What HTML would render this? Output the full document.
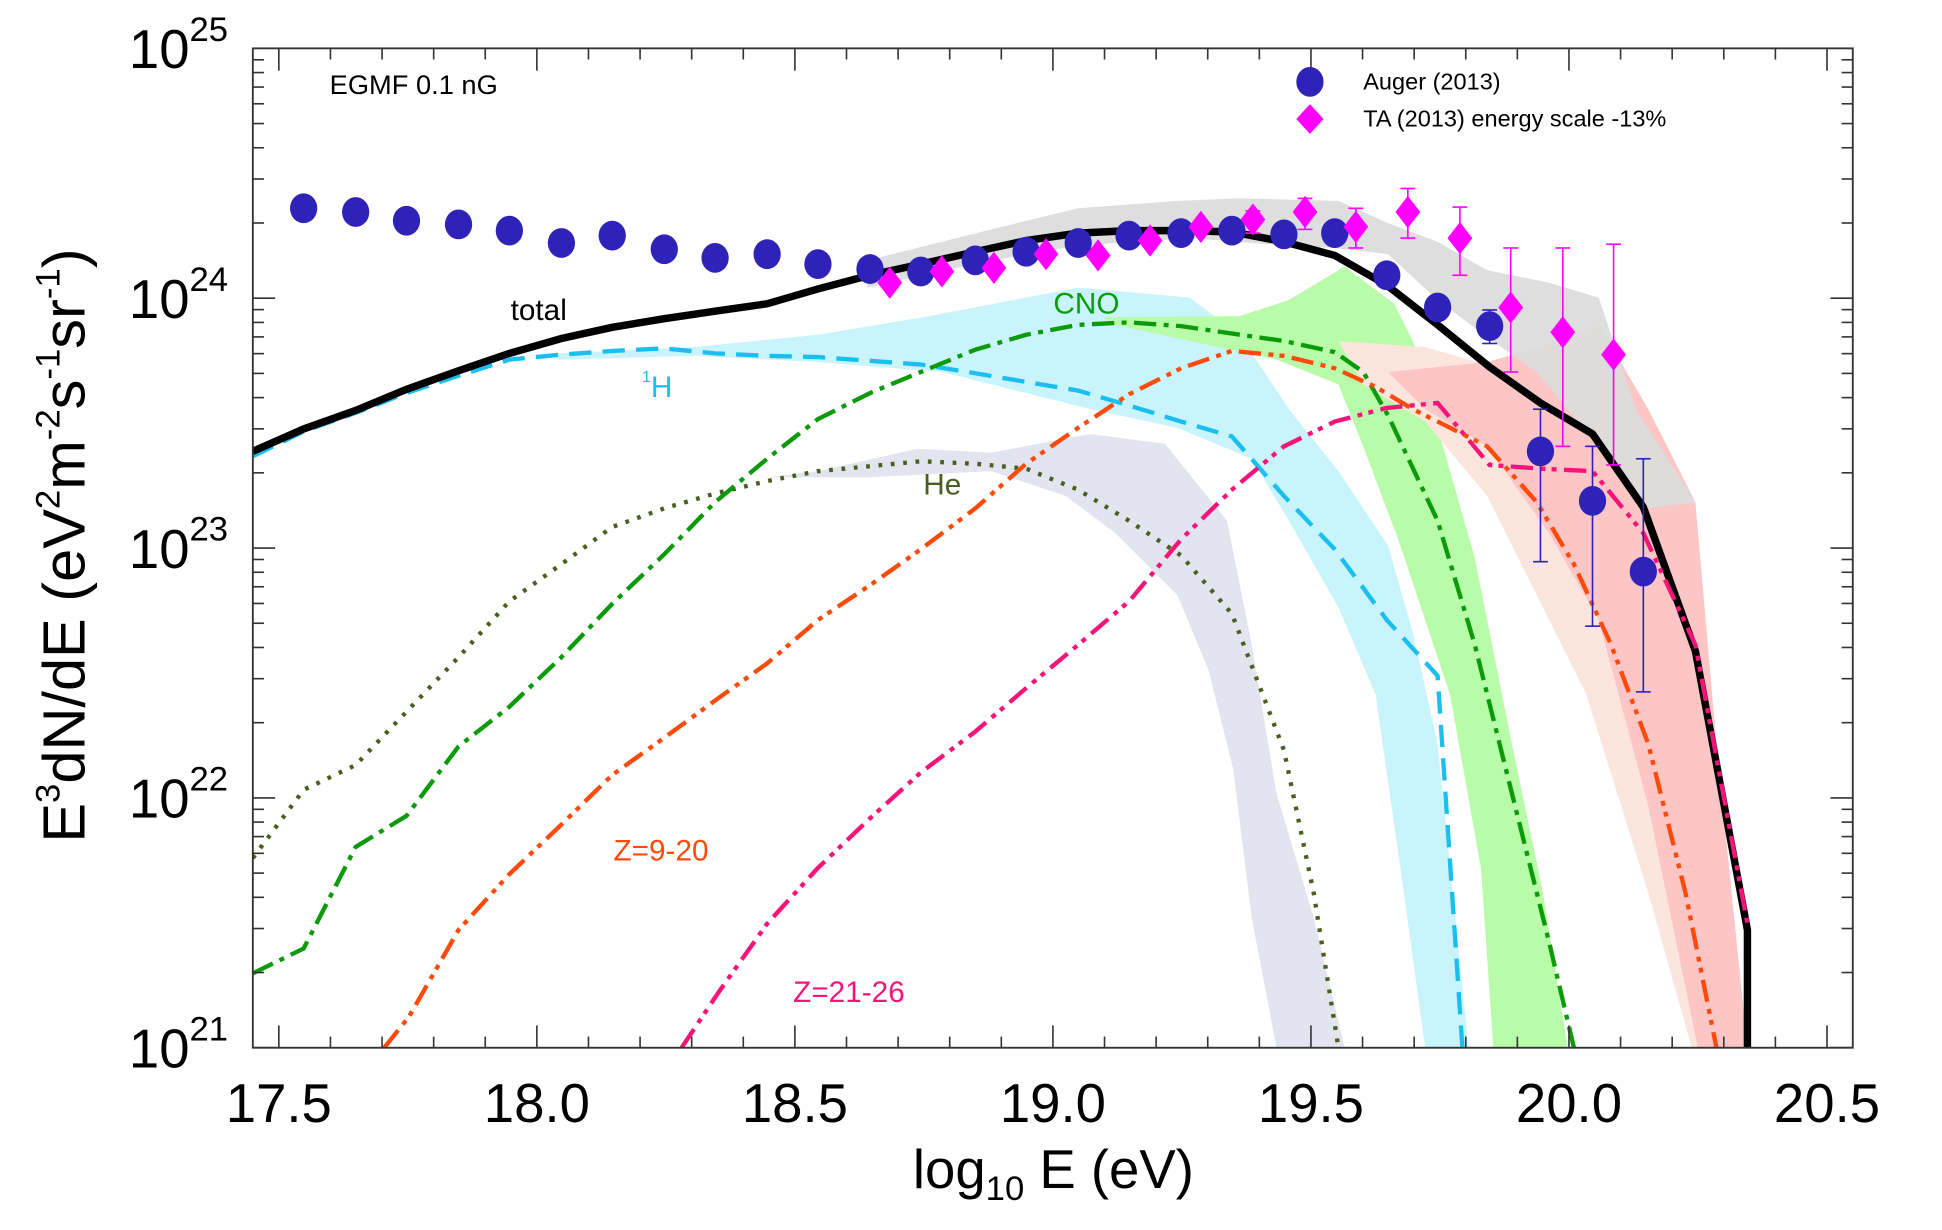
<!DOCTYPE html>
<html><head><meta charset="utf-8"><style>
html,body{margin:0;padding:0;background:#fff;}
svg{display:block;font-family:"Liberation Sans",sans-serif;}
</style></head><body>
<svg id="s" width="1942" height="1230" viewBox="0 0 1567 992" preserveAspectRatio="none" xmlns="http://www.w3.org/2000/svg">
<defs><clipPath id="c"><rect x="204" y="39" width="1291" height="806"/></clipPath></defs>
<g clip-path="url(#c)">
<polygon fill="#e2e5ef" points="620,385 660,380 740,362 800,365 880,350 940,358 990,420 1010,520 1030,640 1060,740 1085,845 1030,845 1010,740 995,620 975,540 950,480 900,430 860,400 800,380 700,385"/>
<polygon fill="#c9f4fb" points="450,285 560,280 660,270 750,255 870,232 960,240 1000,270 1040,330 1080,380 1120,440 1140,510 1160,600 1185,845 1150,845 1130,700 1110,560 1080,490 1040,420 1010,370 950,345 880,330 820,315 760,300 660,292 560,287 450,290"/>
<polygon fill="#b8fba8" points="890,256 1000,255 1040,242 1085,215 1125,245 1140,275 1190,450 1220,600 1245,720 1265,845 1205,845 1195,700 1170,560 1130,440 1100,360 1080,310 1030,290 960,275 900,262"/>
<polygon fill="#fbe5dc" points="1080,275 1150,280 1220,300 1280,330 1330,440 1360,600 1395,845 1365,845 1330,720 1280,560 1240,480 1200,400 1150,340 1100,310"/>
<polygon fill="#fcc5c6" points="1120,300 1200,292 1250,278 1290,262 1330,330 1368,405 1385,600 1410,845 1370,845 1330,650 1290,500 1250,430 1200,360 1150,330"/>
<polygon fill="#dcdcdc" fill-opacity="0.95" points="700,210 800,185 870,168 950,162 1000,160 1080,162 1120,180 1160,195 1200,218 1250,228 1290,240 1320,330 1368,405 1330,410 1290,360 1240,300 1200,272 1160,242 1120,205 1077,200 1036,198 960,192 870,198 790,212 700,232"/>
<polyline fill="none" stroke="#4a5f1f" stroke-width="3.5" stroke-dasharray="3,7" points="204,692 245,637 287,617 328,574 370,530 411,485 453,455 494,425 536,410 577,398 619,388 660,380 702,376 743,372 787,374 828,378 870,395 911,420 953,448 994,495 1036,605 1060,720 1080,845"/>
<polyline fill="none" stroke="#1abff0" stroke-width="3.5" stroke-dasharray="18,9" points="204,368 245,348 287,333 328,317 370,303 411,290 453,286 494,283 536,281 577,285 619,287 660,288 702,291 743,294 787,301 828,308 870,315 911,327 953,340 994,352 1036,400 1077,443 1119,500 1160,545 1180,845"/>
<polyline fill="none" stroke="#0a9a0a" stroke-width="3.5" stroke-dasharray="18,6,4,6" points="204,785 245,765 287,683 328,658 370,602 411,570 453,530 494,487 536,447 577,405 619,370 660,338 702,317 743,300 787,282 828,270 870,262 911,260 953,263 994,269 1036,275 1077,284 1100,300 1120,335 1160,420 1190,520 1220,640 1250,760 1270,845"/>
<polyline fill="none" stroke="#ff4a0a" stroke-width="3.5" stroke-dasharray="18,6,4,5,4,6" points="310,845 330,820 370,750 411,705 453,665 494,625 536,595 577,565 619,535 660,500 702,472 743,443 787,410 828,374 870,345 911,318 953,297 994,283 1036,287 1077,297 1110,312 1140,330 1200,360 1240,405 1270,455 1300,520 1330,600 1360,720 1385,845"/>
<polyline fill="none" stroke="#000" stroke-width="6" points="204,364 245,346 287,331 328,314 370,299 411,285 453,273 494,264 536,257 577,251 619,245 660,233 702,222 743,213 787,203 828,194 870,188 911,186 953,186 994,187 1036,195 1077,206 1119,230 1160,262 1202,296 1243,325 1285,350 1326,409 1368,525 1410,750 1410,845"/>
<polyline fill="none" stroke="#f5147a" stroke-width="3.5" stroke-dasharray="18,6,4,5,4,6" points="550,845 580,800 619,745 660,700 702,660 743,623 787,590 828,555 870,520 911,485 953,435 994,395 1036,360 1077,340 1119,329 1160,325 1202,375 1243,378 1285,380 1326,430 1368,520 1410,745"/>
</g>
<g id="pts"></g>
<rect x="204" y="39" width="1291" height="806" fill="none" stroke="#333" stroke-width="1.5"/>
<g id="ticks" stroke="#333" stroke-width="1.3"></g>
<text x="412" y="258" font-size="24">total</text>
<text x="518" y="320" font-size="24" fill="#1abff0"><tspan font-size="13" dy="-12">1</tspan><tspan dy="12">H</tspan></text>
<text x="745" y="399" font-size="24" fill="#4a5f1f">He</text>
<text x="850" y="253" font-size="24" fill="#0a9a0a">CNO</text>
<text x="495" y="694" font-size="24" fill="#ff4a0a">Z=9-20</text>
<text x="640" y="808" font-size="24" fill="#f5147a">Z=21-26</text>
<text x="266" y="76" font-size="22">EGMF 0.1 nG</text>
<ellipse cx="1057" cy="66" rx="11" ry="12" fill="#2e22b8"/>
<text x="1100" y="72" font-size="19">Auger (2013)</text>
<polygon points="1057,84 1068,96 1057,108 1046,96" fill="#ff00ff"/>
<text x="1100" y="102" font-size="19">TA (2013) energy scale -13%</text>
<g font-size="44" text-anchor="middle" id="xl"></g>
<g font-size="44" id="yl"></g>
<text x="850" y="958" font-size="44" text-anchor="middle">log<tspan font-size="28" dy="10">10</tspan><tspan dy="-10"> E (eV)</tspan></text>
<text transform="translate(68,440) rotate(-90)" font-size="48" text-anchor="middle">E<tspan font-size="28" dy="-20">3</tspan><tspan dy="20">dN/dE (eV</tspan><tspan font-size="28" dy="-20">2</tspan><tspan dy="20">m</tspan><tspan font-size="28" dy="-20">-2</tspan><tspan dy="20">s</tspan><tspan font-size="28" dy="-20">-1</tspan><tspan dy="20">sr</tspan><tspan font-size="28" dy="-20">-1</tspan><tspan dy="20">)</tspan></text>
<script>
var NS="http://www.w3.org/2000/svg";
function el(p,t,a){var e=document.createElementNS(NS,t);for(var k in a)e.setAttribute(k,a[k]);p.appendChild(e);return e;}
var X=function(v){return 225+(v-17.5)*416.4;};
var Y=function(L){return 39+(25-L)*201.5;};
var tk=document.getElementById('ticks');
for(var v=17.5;v<=20.55;v+=0.1){var x=X(v);var maj=Math.abs((v*2)-Math.round(v*2))<0.01;var l=maj?18:9;
el(tk,'line',{x1:x,y1:845,x2:x,y2:845-l});el(tk,'line',{x1:x,y1:39,x2:x,y2:39+l});}
for(var d=21;d<25;d++)for(var m=1;m<10;m++){var y=Y(d+Math.log10(m));var l=m==1?18:9;
el(tk,'line',{x1:204,y1:y,x2:204+l,y2:y});el(tk,'line',{x1:1495,y1:y,x2:1495-l,y2:y});}
var xl=document.getElementById('xl');
["17.5","18.0","18.5","19.0","19.5","20.0","20.5"].forEach(function(s,i){var t=el(xl,'text',{x:X(17.5+i*0.5),y:905});t.textContent=s;});
var yl=document.getElementById('yl');
for(var d=21;d<=25;d++){var t=el(yl,'text',{x:104,y:Y(d)+16});t.textContent="10";var ts=el(t,'tspan',{'font-size':28,dy:-22});ts.textContent=d;}
var P=document.getElementById('pts');
var ta=[[718,228],[760,219],[802,216],[844,205],[886,206],[928,194],[969,183],[1011,177],[1053,171],[1094,183],[1136,171],[1178,192],[1219,248],[1261,268],[1302,286]];
var tae={1011:[170,188],1053:[160,185],1094:[168,200],1136:[152,192],1178:[167,222],1219:[200,300],1261:[200,360],1302:[197,375]};
ta.forEach(function(p){var e=tae[p[0]];if(e){el(P,'line',{x1:p[0],x2:p[0],y1:e[0],y2:e[1],stroke:'#ff00ff','stroke-width':1.3});el(P,'line',{x1:p[0]-6,x2:p[0]+6,y1:e[0],y2:e[0],stroke:'#ff00ff','stroke-width':1.3});el(P,'line',{x1:p[0]-6,x2:p[0]+6,y1:e[1],y2:e[1],stroke:'#ff00ff','stroke-width':1.3});}});
var au=[[245,168],[287,171],[328,178],[370,181],[411,186],[453,196],[494,190],[536,201],[577,208],[619,205],[660,213],[702,217],[743,219],[787,210],[828,203],[870,196],[911,190],[953,188],[994,186],[1036,189],[1077,188],[1119,222],[1160,248],[1202,263],[1243,364],[1285,404],[1326,461]];
var aue={1160:[240,257],1202:[250,277],1243:[330,453],1285:[360,505],1326:[370,558]};
au.forEach(function(p){var e=aue[p[0]];if(e){el(P,'line',{x1:p[0],x2:p[0],y1:e[0],y2:e[1],stroke:'#2e22b8','stroke-width':1.3});el(P,'line',{x1:p[0]-6,x2:p[0]+6,y1:e[0],y2:e[0],stroke:'#2e22b8','stroke-width':1.3});el(P,'line',{x1:p[0]-6,x2:p[0]+6,y1:e[1],y2:e[1],stroke:'#2e22b8','stroke-width':1.3});}
el(P,'ellipse',{cx:p[0],cy:p[1],rx:11,ry:12,fill:'#2e22b8'});});
ta.forEach(function(p){el(P,'polygon',{points:(p[0])+','+(p[1]-13)+' '+(p[0]+10)+','+p[1]+' '+p[0]+','+(p[1]+13)+' '+(p[0]-10)+','+p[1],fill:'#ff00ff'});});
</script>
</svg>
</body></html>
